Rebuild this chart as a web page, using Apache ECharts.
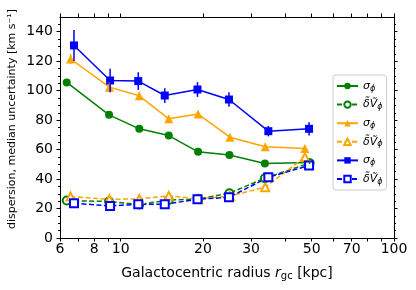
<!DOCTYPE html>
<html><head><meta charset="utf-8">
<script src="https://cdn.jsdelivr.net/npm/echarts@6/dist/echarts.min.js"></script>
<style>html,body{margin:0;padding:0;background:#fff}#c{width:416px;height:290px}</style>
</head><body><div id="c"></div>
<script>
// ---- data ----
const rGreen  = [6.35, 9.07, 11.7, 15.0, 19.2, 25.0, 33.7, 49.1];
const rOrange = [6.56, 9.1, 11.7, 15.0, 19.2, 25.1, 33.8, 47.2];
const rBlue   = [6.75, 9.15, 11.6, 14.5, 19.1, 24.9, 34.7, 48.9];
const sigGreen  = [105.6, 83.6, 74.1, 69.5, 58.5, 56.4, 50.5, 51.2];
const sigOrange = [121.5, 102.4, 96.5, 80.9, 84.1, 68.4, 62.0, 60.7];
const sigBlue   = [130.7, 106.9, 106.5, 96.7, 100.8, 94.0, 72.5, 74.1];
const errGreen  = [1, 1, 1, 1, 1, 1, 1, 1];
const errOrange = [3.5, 3.5, 2.5, 2, 2, 2, 2, 2];
const errBlue   = [10.5, 8, 6, 5, 5, 5, 3.5, 4.5];
const dvGreen  = [25.4, 24.8, 22.7, 25.8, 26.5, 30.4, 40.6, 50.8];
const dvOrange = [28.1, 26.3, 26.5, 28.6, 26.5, 28.5, 34.5, 54.9];
const dvBlue   = [23.6, 21.8, 22.9, 22.9, 26.3, 27.6, 41.2, 49.2];
const xTickLabels = [6, 8, 10, 20, 30, 50, 70, 100];
const xTicksAll = [6, 7, 8, 9, 10, 20, 30, 40, 50, 60, 70, 80, 90, 100];
const yTicks = [0, 20, 40, 60, 80, 100, 120, 140];

const GREEN = '#008000', ORANGE = '#FFA500', BLUE = '#0000FF';
const zip = (xs, ys) => xs.map((x, i) => [x, ys[i]]);
const zip3 = (xs, ys, es) => xs.map((x, i) => [x, ys[i], es[i]]);

const labelMap = {
  sg: '{s|σ}{sub|ϕ}', dg: '{s|δ\u0303V\u0303}{sub|ϕ}',
  so: '{s|σ}{sub|ϕ}', do: '{s|δ\u0303V\u0303}{sub|ϕ}',
  sb: '{s|σ}{sub|ϕ}', db: '{s|δ\u0303V\u0303}{sub|ϕ}'
};

function lineSeries(name, xs, ys, color, symbol, size, dashed) {
  return {
    name, type: 'line', xAxisIndex: 0, yAxisIndex: 0,
    data: zip(xs, ys), symbol, symbolSize: size, showSymbol: true,
    lineStyle: { color, width: 1.5, type: dashed ? [5, 2.5] : 'solid' },
    itemStyle: { color, borderColor: color, borderWidth: dashed ? 1 : 0 },
    emphasis: { disabled: true }, animation: false, z: 3
  };
}
function errSeries(xs, ys, es, color) {
  return {
    type: 'custom', xAxisIndex: 0, yAxisIndex: 0, data: zip3(xs, ys, es), z: 4, animation: false,
    renderItem: (params, api) => {
      const x = api.value(0), y = api.value(1), e = api.value(2);
      const p1 = api.coord([x, y - e]), p2 = api.coord([x, y + e]);
      return { type: 'line', shape: { x1: p1[0], y1: p1[1], x2: p2[0], y2: p2[1] },
               style: { stroke: color, lineWidth: 1.5 } };
    }
  };
}

const axisCommon = {
  axisLine: { show: true, onZero: false, lineStyle: { color: '#000', width: 1 } },
  splitLine: { show: false }
};

const chart = echarts.init(document.getElementById('c'), null, { renderer: 'canvas' });
chart.setOption({
  animation: false,
  grid: { left: 60, right: 22, top: 17, bottom: 52, containLabel: false },
  xAxis: [
    Object.assign({}, axisCommon, {
      type: 'log', logBase: 10, min: 6, max: 100, position: 'bottom',
      axisTick: { show: true, length: 3.5, lineStyle: { color: '#000' }, customValues: xTicksAll },
      axisLabel: { show: true, color: '#000', fontSize: 14, fontFamily: 'DejaVu Sans', margin: 4,
                   customValues: xTickLabels, formatter: v => String(Math.round(v)) },
      name: '{n|Galactocentric radius }{i|r}{sb|gc}{n| [kpc]}', nameLocation: 'middle', nameGap: 27,
      nameTextStyle: { rich: {
        n: { fontSize: 14, fontFamily: 'DejaVu Sans', color: '#000' },
        i: { fontSize: 14, fontFamily: 'DejaVu Sans', fontStyle: 'italic', color: '#000' },
        sb: { fontSize: 10, fontFamily: 'DejaVu Sans', color: '#000', padding: [6, 0, 0, 0] }
      } }
    }),
    Object.assign({}, axisCommon, {
      type: 'log', logBase: 10, min: 6, max: 100, position: 'top',
      axisTick: { show: true, length: 3.5, lineStyle: { color: '#000' }, customValues: xTicksAll },
      axisLabel: { show: false }
    })
  ],
  yAxis: [
    Object.assign({}, axisCommon, {
      type: 'value', min: 0, max: 150, interval: 20, position: 'left',
      axisTick: { show: true, length: 3.5, lineStyle: { color: '#000' }, customValues: yTicks },
      minorTick: { show: true, splitNumber: 4, length: 2, lineStyle: { color: '#000' } },
      axisLabel: { show: true, color: '#000', fontSize: 14, fontFamily: 'DejaVu Sans', margin: 7, customValues: yTicks }
    }),
    Object.assign({}, axisCommon, {
      type: 'value', min: 0, max: 150, interval: 20, position: 'right',
      axisTick: { show: true, length: 3.5, lineStyle: { color: '#000' }, customValues: yTicks },
      minorTick: { show: true, splitNumber: 4, length: 2, lineStyle: { color: '#000' } },
      axisLabel: { show: false }
    })
  ],
  legend: {
    orient: 'vertical', left: 333, top: 75,
    itemWidth: 21, itemHeight: 8, itemGap: 4.6,
    padding: [4, 4, 4, 3],
    borderColor: '#cccccc', borderWidth: 1, borderRadius: 3, backgroundColor: '#fff',
    data: ['sg', 'dg', 'so', 'do', 'sb', 'db'],
    formatter: n => labelMap[n],
    textStyle: { lineHeight: 14, rich: {
      s: { fontSize: 11, fontFamily: 'DejaVu Sans', fontStyle: 'italic', color: '#000' },
      sub: { fontSize: 8, fontFamily: 'DejaVu Sans', fontStyle: 'italic', color: '#000', padding: [5, 0, 0, 0] }
    } }
  },
  graphic: [{
    type: 'text', x: 12, y: 119, rotation: Math.PI / 2,
    style: { text: 'dispersion, median uncertainty [km s\u207B\u00B9]', fontSize: 11, fontFamily: 'DejaVu Sans',
             fill: '#000', align: 'center', verticalAlign: 'middle' }
  }],
  series: [
    lineSeries('sg', rGreen, sigGreen, GREEN, 'circle', 8, false),
    errSeries(rGreen, sigGreen, errGreen, GREEN),
    lineSeries('dg', rGreen, dvGreen, GREEN, 'emptyCircle', 8, true),
    lineSeries('so', rOrange, sigOrange, ORANGE, 'triangle', 9, false),
    errSeries(rOrange, sigOrange, errOrange, ORANGE),
    lineSeries('do', rOrange, dvOrange, ORANGE, 'emptyTriangle', 8, true),
    lineSeries('sb', rBlue, sigBlue, BLUE, 'rect', 8, false),
    errSeries(rBlue, sigBlue, errBlue, BLUE),
    lineSeries('db', rBlue, dvBlue, BLUE, 'emptyRect', 8, true)
  ]
});
</script></body></html>
